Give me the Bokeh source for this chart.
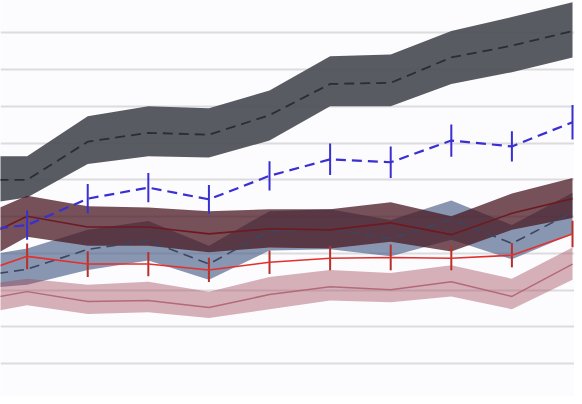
import numpy as np
from bokeh.plotting import figure
from bokeh.models import Grid, SingleIntervalTicker, Range1d
from bokeh.embed import file_html
from bokeh.resources import INLINE

# x positions (index of each sample)
steps = list(range(11))

# Series A: dark gray band with dashed centre line
a_mid = [6.00, 6.00, 7.04, 7.28, 7.23, 7.76, 8.61, 8.64, 9.33, 9.65, 10.05]
a_hi = [6.64, 6.64, 7.73, 8.00, 7.95, 8.43, 9.36, 9.41, 10.05, 10.43, 10.83]
a_lo = [5.28, 5.52, 6.43, 6.64, 6.61, 7.07, 8.00, 8.00, 8.61, 8.93, 9.33]

# Series B: blue dashed line with error bars
b_mid = [4.59, 4.77, 5.49, 5.79, 5.47, 6.11, 6.56, 6.48, 7.07, 6.91, 7.57]
b_err = [0.40, 0.40, 0.40, 0.40, 0.39, 0.40, 0.43, 0.43, 0.44, 0.41, 0.47]

# Series C: maroon band with dark red line
c_mid = [4.21, 5.01, 4.72, 4.72, 4.53, 4.67, 4.64, 4.83, 4.51, 5.09, 5.49]
c_hi = [4.85, 5.57, 5.28, 5.25, 5.15, 5.20, 5.20, 5.39, 5.01, 5.63, 6.05]
c_lo = [3.55, 4.45, 4.21, 4.21, 4.03, 4.16, 4.13, 4.32, 4.05, 4.64, 4.96]

# Series D: slate band with dashed line
d_mid = [3.33, 3.57, 4.11, 4.35, 3.71, 4.61, 4.67, 4.40, 4.93, 4.27, 5.12]
d_hi = [3.87, 4.13, 4.64, 4.88, 4.21, 5.15, 5.20, 4.91, 5.44, 4.77, 5.65]
d_lo = [3.01, 3.15, 3.55, 3.81, 3.28, 4.08, 4.11, 3.92, 4.37, 3.84, 4.53]

# Series E: red line with error bars
e_mid = [3.36, 3.92, 3.71, 3.71, 3.55, 3.76, 3.87, 3.89, 3.87, 3.95, 4.53]
e_err = [0.35, 0.35, 0.35, 0.33, 0.33, 0.32, 0.33, 0.35, 0.33, 0.33, 0.36]

# Series F: pink band with rose line
f_mid = [2.67, 2.96, 2.69, 2.72, 2.53, 2.88, 3.09, 3.01, 3.23, 2.83, 3.71]
f_hi = [3.09, 3.31, 3.15, 3.23, 2.96, 3.36, 3.55, 3.47, 3.68, 3.31, 4.16]
f_lo = [2.29, 2.59, 2.35, 2.40, 2.24, 2.48, 2.72, 2.67, 2.83, 2.48, 3.28]

p = figure(width=574, height=396, output_backend="svg", toolbar_location=None,
           x_axis_location=None, y_axis_location=None,
           x_range=Range1d(0.5605, 10.033), y_range=Range1d(0.107, 10.88),
           min_border=0, background_fill_color="#fcfbfd", border_fill_color="#fcfbfd")
p.outline_line_color = None
p.grid.visible = False
p.add_layout(Grid(dimension=1, ticker=SingleIntervalTicker(interval=1),
                  grid_line_color="#dcdcdf", grid_line_width=2))

x = np.array(steps, dtype=float)

# bands
p.varea(x=x, y1=a_lo, y2=a_hi, fill_color="#4a4d54", fill_alpha=0.92)
p.varea(x=x, y1=d_lo, y2=d_hi, fill_color="#4a6088", fill_alpha=0.65)
p.varea(x=x, y1=c_lo, y2=c_hi, fill_color="#4a1822", fill_alpha=0.75)
p.varea(x=x, y1=f_lo, y2=f_hi, fill_color="#a24858", fill_alpha=0.42)

# centre lines of bands
p.line(x, a_mid, line_color="#2b2d33", line_width=1.8, line_dash="10 6")
p.line(x, d_mid, line_color="#3b4660", line_width=1.6, line_dash="10 6")
p.line(x, c_mid, line_color="#6e1a22", line_width=1.6)
p.line(x, f_mid, line_color="#b36a78", line_width=1.5)

# blue dashed with error bars
b = np.array(b_mid); be = np.array(b_err)
p.segment(x0=x, y0=b - be, x1=x, y1=b + be, line_color="#3a2fd0", line_width=2)
p.line(x, b_mid, line_color="#3a2fd0", line_width=2.2, line_dash="10 6")

# red with error bars
e = np.array(e_mid); ee = np.array(e_err)
p.segment(x0=x, y0=e - ee, x1=x, y1=e + ee, line_color="#b8302a", line_width=2)
p.line(x, e_mid, line_color="#e3302c", line_width=1.6)

open("out.html", "w").write(file_html(p, INLINE))
